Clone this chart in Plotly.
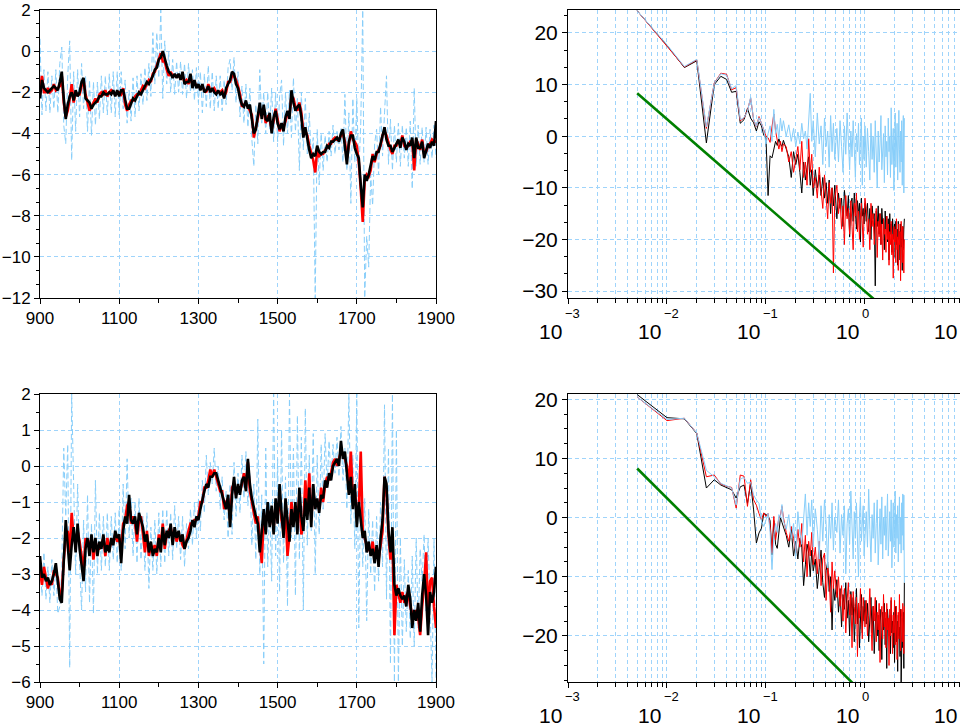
import plotly.graph_objects as go

# ---------------- time axis (years) ----------------
YEARS = list(range(900, 1901, 5))

# ---------------- top-left panel series ----------------
TL_BLACK = [
    -2.3, -1.4, -1.8, -1.9, -2.0, -1.9, -1.8, -1.7, -1.8, -1.9,
    -1.5, -1.0, -2.3, -3.3, -2.6, -2.2, -2.0, -2.4, -1.9, -2.2,
    -2.0, -1.5, -1.3, -2.3, -2.4, -2.5, -2.8, -2.6, -2.5, -2.4,
    -2.2, -2.2, -2.0, -2.1, -2.1, -2.0, -2.1, -1.9, -2.2, -1.9,
    -2.2, -1.9, -1.9, -2.4, -2.8, -2.8, -2.5, -2.3, -2.4, -2.2,
    -2.0, -2.1, -1.9, -1.7, -1.5, -1.6, -1.4, -1.2, -0.9, -0.8,
    -0.4, -0.3, 0.0, -0.4, -0.7, -1.0, -1.1, -1.3, -1.1, -1.3,
    -1.1, -1.4, -1.0, -1.6, -1.5, -1.5, -1.1, -1.8, -1.4, -1.8,
    -1.6, -1.9, -1.6, -2.0, -1.9, -1.7, -2.0, -1.8, -2.0, -2.1,
    -1.9, -2.1, -2.0, -2.3, -1.8, -1.6, -1.4, -1.0, -1.1, -1.6,
    -1.8, -2.3, -2.6, -2.7, -2.4, -2.8, -2.6, -3.3, -4.0, -3.8,
    -3.1, -2.5, -3.3, -2.6, -3.3, -3.4, -3.0, -4.0, -3.2, -2.9,
    -3.5, -3.8, -3.5, -3.9, -3.2, -2.9, -3.3, -1.9, -2.5, -2.9,
    -2.7, -2.6, -3.2, -4.2, -3.7, -4.3, -4.8, -5.2, -5.0, -5.1,
    -4.6, -4.9, -5.0, -4.9, -4.9, -4.6, -4.7, -4.4, -4.4, -4.3,
    -4.2, -4.4, -4.0, -3.8, -4.6, -5.5, -4.4, -4.1, -4.1, -4.7,
    -5.0, -5.2, -6.5, -7.6, -6.0, -6.3, -6.0, -5.6, -5.1, -5.3,
    -4.9, -4.9, -4.5, -4.2, -3.7, -4.3, -4.6, -4.6, -4.9, -4.7,
    -4.5, -4.3, -4.7, -4.2, -4.4, -4.8, -4.5, -4.6, -4.2, -5.2,
    -4.2, -4.7, -4.7, -4.4, -5.2, -4.8, -4.5, -4.7, -4.4, -4.6,
    -3.4,
]
TL_RED = [
    -1.9, -1.2, -2.0, -2.0, -1.8, -2.0, -1.9, -1.6, -1.9, -1.8,
    -1.7, -1.2, -2.5, -3.2, -2.9, -2.3, -1.6, -2.5, -2.0, -2.1,
    -2.1, -1.7, -1.4, -2.1, -2.5, -2.9, -2.7, -2.5, -2.3, -2.5,
    -2.1, -2.0, -2.1, -1.9, -2.2, -2.0, -1.9, -2.0, -2.1, -2.0,
    -2.0, -2.1, -1.8, -2.6, -2.9, -2.6, -2.4, -2.4, -2.2, -2.1,
    -2.1, -1.9, -1.7, -1.8, -1.6, -1.4, -1.5, -1.1, -1.0, -0.7,
    -0.5, -0.1, -0.5, -0.5, -0.9, -1.2, -1.0, -1.2, -1.2, -1.2,
    -1.2, -1.3, -1.2, -1.5, -1.4, -1.6, -1.3, -1.6, -1.5, -1.7,
    -1.7, -1.8, -1.7, -1.9, -2.0, -1.6, -1.9, -1.9, -1.8, -2.0,
    -2.0, -2.0, -1.9, -2.2, -2.0, -1.5, -1.5, -1.2, -1.2, -1.4,
    -1.7, -2.1, -2.7, -2.6, -2.6, -2.7, -2.9, -3.1, -4.2, -3.7,
    -3.3, -2.8, -3.1, -2.8, -3.5, -3.2, -3.3, -3.8, -3.4, -2.8,
    -3.3, -3.9, -3.6, -3.7, -3.4, -3.0, -3.1, -2.2, -2.3, -2.7,
    -2.9, -2.5, -3.0, -3.9, -3.9, -4.1, -4.6, -5.0, -5.3, -5.9,
    -4.8, -5.1, -5.0, -5.0, -4.8, -4.7, -4.5, -4.5, -4.3, -4.2,
    -4.3, -4.3, -4.1, -4.0, -4.4, -5.2, -4.6, -3.9, -4.3, -4.4,
    -4.6, -5.4, -6.7, -8.3, -6.3, -6.0, -6.1, -5.8, -5.0, -5.4,
    -5.0, -4.8, -4.6, -4.1, -3.9, -4.1, -4.5, -4.8, -5.0, -4.6,
    -4.6, -4.4, -4.5, -4.1, -4.6, -4.7, -4.6, -4.4, -4.4, -5.8,
    -4.3, -4.5, -4.8, -4.3, -5.0, -4.9, -4.6, -4.5, -4.3, -4.4,
    -4.4,
]
TL_BLUE = [
    0.6, -3.1, -0.9, -2.9, -1.0, -3.0, -1.2, -2.8, -0.9, -3.0,
    -0.6, 0.2, -3.6, -4.5, -1.2, 0.5, -5.3, -1.0, -3.9, -0.9,
    -3.2, -0.6, -2.8, -1.2, -3.9, -1.4, -4.1, -1.5, -3.6, -1.5,
    -3.3, -1.2, -3.0, -1.2, -3.1, -1.1, -3.0, -1.0, -3.2, -1.0,
    -3.1, -1.0, -2.8, -1.4, -3.5, -1.9, -3.4, -1.3, -3.2, -1.2,
    -2.9, -1.1, -2.6, -0.8, -2.4, -0.6, -2.2, 0.9, -1.6, 0.9,
    -1.3, 2.0, -2.3, 0.5, -1.6, 0.0, -2.0, -0.4, -2.1, -0.5,
    -2.0, -0.5, -2.1, -0.6, -2.3, -0.6, -2.0, -0.9, -2.4, -0.8,
    -2.5, -1.0, -3.0, -1.1, -2.7, -0.7, -2.8, -1.0, -2.9, -1.2,
    -2.8, -1.2, -2.9, -1.4, -2.6, -0.8, -0.4, -1.9, -0.3, -2.5,
    -1.0, -3.2, -1.7, -3.5, -1.6, -3.7, -1.8, -4.3, -5.6, -2.6,
    -4.5, -0.9, -3.5, -2.0, -4.0, -2.0, -3.8, -1.8, -4.4, -2.0,
    -4.4, -2.2, -1.4, -4.6, -2.0, -4.0, -1.9, -4.2, -1.3, -3.9,
    -2.3, -5.8, -2.0, -4.8, -2.3, -5.0, -3.0, -5.2, -4.2, -12.0,
    -3.8, -6.5, -4.0, -5.8, -4.1, -5.4, -3.9, -5.1, -3.6, -5.0,
    -3.9, -4.8, -3.7, -5.4, -2.1, -5.8, -3.0, -7.4, -2.3, -5.4,
    -2.3, -6.0, -3.5, 2.0, -12.0, -9.0, -10.5, -6.0, -7.5, -4.5,
    -3.8, -6.0, -2.7, -5.1, -3.0, -1.2, -5.5, -3.3, -5.8, -3.6,
    -5.4, -3.5, -5.6, -3.6, -5.2, -3.7, -5.6, -3.4, -6.7, -1.8,
    -5.6, -3.6, -5.5, -3.7, -5.4, -3.7, -5.5, -3.8, -5.2, -3.6,
    -5.2,
]

# ---------------- bottom-left panel series ----------------
BL_BLACK = [
    -2.5, -3.1, -3.0, -3.2, -3.1, -3.3, -3.2, -3.0, -2.7, -3.3,
    -3.7, -3.8, -2.4, -1.5, -2.2, -2.9, -2.2, -1.7, -2.4, -1.6,
    -2.3, -2.7, -3.2, -2.3, -2.0, -2.5, -1.9, -2.4, -2.0, -2.5,
    -2.1, -2.3, -1.9, -2.4, -2.2, -2.4, -2.0, -2.2, -1.8, -2.0,
    -1.9, -2.7, -1.8, -1.4, -1.6, -0.8, -1.5, -1.6, -1.4, -1.9,
    -1.3, -1.5, -1.7, -2.1, -1.9, -2.4, -2.1, -2.5, -2.3, -2.4,
    -2.0, -2.4, -1.7, -2.2, -1.8, -2.0, -1.6, -2.2, -1.7, -2.0,
    -1.8, -2.1, -1.9, -2.3, -2.1, -2.0, -1.8, -1.5, -1.7, -1.4,
    -1.5, -1.2, -0.9, -0.7, -0.5, -0.6, -0.3, -0.3, -0.2, -0.2,
    -0.4, -0.6, -0.8, -1.0, -1.2, -0.8, -1.7, -0.8, -0.3, -0.9,
    -0.5, -0.8, -0.4, -0.3, -0.7, 0.2, -0.5, -0.9, -1.2, -1.4,
    -1.6, -2.4, -1.8, -1.2, -1.9, -1.0, -1.7, -1.1, -1.9, -0.9,
    -1.6, -0.5, -1.3, -2.0, -0.9, -1.6, -2.1, -1.2, -1.7, -1.0,
    -1.9, -0.6, -1.4, -1.8, -0.9, -1.5, -0.6, -1.7, -0.5, -1.2,
    -0.9, -1.3, -0.8, -0.9, -0.4, -0.6, -0.2, -0.4, 0.0, 0.1,
    0.2, 0.0, 0.7, 0.2, 0.4, -0.2, -0.8, -0.3, -1.2, -0.5,
    -1.7, -1.0, -1.6, -2.0, -1.8, -2.4, -2.1, -2.5, -2.3, -2.7,
    -2.2, -2.8, -2.0, -1.5, -0.3, -0.5, -1.8, -2.4, -1.7, -3.3,
    -3.6, -3.4, -3.6, -3.7, -3.6, -3.9, -3.3, -3.7, -4.5, -4.0,
    -4.3, -3.8, -4.6, -3.6, -3.0, -3.6, -4.7, -3.5, -3.8, -3.5,
    -2.8,
]
BL_RED = [
    -2.9, -3.3, -2.8, -3.1, -3.4, -3.2, -3.3, -2.9, -3.0, -3.1,
    -3.6, -3.5, -2.6, -2.0, -1.8, -2.4, -1.3, -2.0, -2.1, -1.8,
    -2.1, -2.5, -2.9, -2.0, -2.2, -2.2, -2.0, -2.6, -2.1, -2.3,
    -2.3, -2.2, -2.0, -2.5, -2.0, -2.3, -2.1, -2.1, -1.9, -2.1,
    -2.0, -2.3, -1.6, -1.5, -1.1, -1.0, -1.6, -1.4, -1.6, -2.1,
    -1.5, -1.4, -1.9, -2.4, -1.8, -2.5, -2.2, -2.3, -2.2, -2.5,
    -1.9, -2.2, -1.6, -2.3, -1.9, -1.8, -1.7, -2.0, -1.8, -2.1,
    -1.9, -2.0, -2.2, -2.3, -2.0, -1.8, -1.6, -1.6, -1.5, -1.5,
    -1.4, -1.0, -1.0, -0.6, -0.6, -0.4, -0.1, -0.3, -0.1, -0.3,
    -0.5, -0.7, -0.7, -1.2, -1.0, -0.9, -1.5, -0.6, -0.5, -0.8,
    -0.6, -0.7, -0.5, -0.2, -0.6, 0.1, -0.7, -1.0, -1.3, -1.6,
    -1.4, -2.2, -2.7, -1.4, -1.6, -1.2, -1.5, -1.4, -1.7, -1.1,
    -1.4, -0.8, -1.5, -1.8, -1.2, -2.5, -1.9, -1.0, -1.5, -1.3,
    -1.6, -0.8, -1.9, -1.6, -0.4, -1.3, -0.2, -1.4, -0.8, -1.0,
    -1.0, -1.2, -0.6, -1.0, -0.5, -0.3, -0.4, -0.2, 0.1, 0.2,
    0.0, 0.2, 0.4, 0.3, 0.2, 0.0, -0.6, 0.4, -0.9, -0.7,
    -1.4, -1.2, 0.4, -1.8, -2.0, -2.2, -2.3, -2.4, -2.1, -2.5,
    -2.4, -2.6, -2.2, -1.8, -0.3, -0.7, -1.9, -2.6, -2.0, -4.7,
    -3.3, -3.6, -3.8, -3.5, -3.8, -3.6, -3.5, -3.9, -4.1, -4.2,
    -4.0, -4.2, -4.7, -3.9, -3.3, -2.4, -4.2, -3.2, -3.1, -3.9,
    -4.5,
]
BL_BLUE = [
    -2.6, -3.6, -2.4, -3.7, -2.8, -3.8, -2.6, -3.6, -2.8, -4.1,
    -3.9, -2.9, 0.5, -1.4, 0.6, -5.6, 2.0, -1.0, -3.0, -0.5,
    -2.7, -4.0, -1.5, -3.5, -0.8, -3.8, -1.6, -4.1, -0.4, -3.0,
    -1.3, -2.9, -1.4, -2.8, -1.3, -2.9, -1.4, -2.6, -1.3, -2.7,
    -1.2, -2.9, -0.5, -2.3, 0.2, -2.0, -0.9, -2.5, -1.0, -2.7,
    -0.9, -2.6, -1.4, -2.9, -1.3, -3.4, -1.7, -2.9, -1.5, -3.0,
    -1.3, -2.8, -1.2, -2.7, -1.2, -2.5, -1.3, -2.6, -1.1, -2.3,
    -1.4, -2.6, -1.4, -2.8, -1.6, -2.3, -1.2, -2.2, -1.0, -2.0,
    -0.9, -1.8, -0.4, -1.3, 0.3, -0.8, 0.1, -0.5, 0.5, -0.7,
    0.0, -1.2, -0.3, -1.5, -0.7, -2.0, -0.5, -1.9, 0.1, -1.4,
    -0.2, -1.3, 0.3, -0.9, 0.4, -1.1, -0.2, -2.2, -0.5, -2.6,
    1.3, -3.0, -0.8, -5.5, 0.5, -2.8, -1.0, -3.2, 2.0, -2.5,
    0.2, -3.5, 1.0, -2.7, -0.3, -3.9, 2.0, -2.0, 0.5, -3.6,
    1.4, -2.6, 0.8, -4.0, 1.6, -2.2, 0.3, -1.8, 0.9, -3.0,
    0.3, -1.9, 0.6, -1.2, 0.9, -0.6, 0.7, -0.4, 0.6, -0.2,
    0.8, -0.3, 1.1, -0.4, 0.5, -1.2, 2.0, -1.6, 0.3, -2.3,
    2.0, -4.5, -0.3, -2.8, -0.9, -4.3, -1.2, -3.0, -1.5, -3.5,
    -1.4, -3.2, -1.0, -2.8, 1.7, -3.7, 0.5, -5.5, 2.0, -6.0,
    1.0, -6.0, -2.0, -5.0, -2.6, -4.6, -2.9, -4.8, -2.5, -5.0,
    -2.0, -4.5, -2.3, -3.2, -1.9, -4.0, -2.0, -3.9, -6.0, -2.0,
    -6.0,
]

# ---------------- spectra: frequency grid ----------------
FREQ = [
    0.005, 0.01, 0.015, 0.02, 0.025, 0.03, 0.035, 0.04, 0.045, 0.05,
    0.055, 0.06, 0.065, 0.07, 0.075, 0.08, 0.085, 0.09, 0.095, 0.1,
    0.105, 0.11, 0.115, 0.12, 0.125, 0.13, 0.135, 0.14, 0.145, 0.15,
    0.16, 0.17, 0.18, 0.19, 0.2, 0.21, 0.22, 0.23, 0.24, 0.25,
    0.26, 0.27, 0.28, 0.29, 0.3,
    0.315, 0.33, 0.345, 0.36, 0.375, 0.39, 0.405, 0.42, 0.435, 0.45,
    0.465, 0.48, 0.495,
    0.52, 0.54, 0.56, 0.58, 0.6, 0.62, 0.64, 0.66, 0.68, 0.7,
    0.72, 0.74, 0.76, 0.78, 0.8, 0.82, 0.84, 0.86, 0.88, 0.9,
    0.92, 0.94, 0.96, 0.98, 1.0,
    1.03, 1.06, 1.09, 1.12, 1.15, 1.18, 1.21, 1.24, 1.27, 1.3,
    1.33, 1.36, 1.39, 1.42, 1.45, 1.48, 1.51, 1.54, 1.57, 1.6,
    1.63, 1.66, 1.69, 1.72, 1.75, 1.78, 1.81, 1.84, 1.87, 1.9,
    1.93, 1.96, 1.99, 2.02, 2.05, 2.08, 2.11, 2.14, 2.17, 2.2,
    2.23, 2.26, 2.29, 2.32, 2.35, 2.38, 2.41, 2.44, 2.47, 2.5,
]

# top-right spectra (dB)
TR_BLACK = [
    24.3, 17.6, 13.3, 14.6, -1.3, 10.0, 11.6, 11.0, 8.5, 8.7,
    2.5, 3.2, 5.4, 3.5, 2.6, 1.0, 2.8, 2.0, 0.2, -0.3,
    -11.5, -3.8, -4.2, -2.6, -1.0, -1.8, -0.5, -1.5, -2.0, -0.8,
    -2.5, -4.0, -8.0, -3.0, -5.5, -3.5, -7.0, -11.0, -5.0, -8.5,
    -6.0, -4.0, -9.5, -6.5, -11.5,
    -6.5, -10.0, -7.5, -11.5, -8.0, -12.0, -9.0, -13.0, -8.5, -15.0,
    -10.0, -13.5, -9.5,
    -16.0, -11.0, -14.0, -12.0, -17.5, -10.5, -13.0, -15.5, -11.5, -19.5,
    -13.0, -12.0, -16.5, -11.0, -14.5, -18.0, -12.5, -15.0, -13.0, -20.5,
    -12.0, -15.5, -14.0, -17.0, -13.0,
    -16.5, -13.0, -18.5, -14.0, -20.0, -13.5, -16.0, -15.0, -29.0, -14.5,
    -17.5, -13.5, -19.0, -15.0, -21.0, -14.0, -17.0, -16.0, -22.0, -14.5,
    -18.0, -15.5, -20.5, -16.0, -24.0, -15.0, -19.0, -17.0, -22.5, -16.0,
    -18.5, -20.0, -17.0, -23.5, -16.5, -21.0, -18.0, -25.0, -16.5, -20.0,
    -18.5, -24.0, -17.0, -21.5, -19.0, -26.0, -17.5, -22.0, -18.0, -16.0,
]
TR_RED = [
    24.3, 17.5, 13.4, 14.8, 1.5, 10.3, 12.2, 12.0, 9.0, 9.4,
    3.0, 3.5, 5.0, 7.4, 3.2, 1.8, 3.8, 2.5, 1.0, 0.0,
    -0.3, -1.2, 1.8, 4.3, 1.0, -0.5, -2.5, -1.0, -3.0, -1.5,
    -2.0, -5.0, -3.0, -7.0, -4.0, -2.0, -6.5, -1.0, -8.0, -5.0,
    -9.5, -0.5, -7.0, -3.5, -10.0,
    -8.0, -12.0, -6.0, -10.5, -14.0, -7.5, -11.0, -16.0, -9.0, -13.0,
    -10.0, -26.5, -12.0,
    -9.5, -15.0, -12.0, -18.0, -13.5, -21.0, -11.5, -16.0, -14.0, -19.0,
    -12.5, -17.5, -22.0, -13.0, -15.5, -11.0, -18.5, -14.5, -20.0, -16.0,
    -13.0, -17.0, -21.5, -15.0, -12.0,
    -14.0, -19.0, -16.0, -22.0, -13.0, -17.5, -15.0, -21.0, -18.0, -14.0,
    -23.5, -16.5, -19.5, -15.0, -21.0, -17.0, -24.0, -16.0, -19.0, -18.0,
    -22.5, -15.5, -20.0, -17.0, -25.0, -18.5, -21.0, -16.5, -23.0, -19.0,
    -27.5, -17.5, -20.5, -18.0, -24.5, -16.0, -22.0, -19.5, -26.0, -17.0,
    -21.0, -18.5, -28.0, -16.5, -20.0, -24.5, -17.5, -21.5, -26.5, -20.0,
]
TR_BLUE = [
    24.3, 17.7, 13.5, 14.9, 1.8, 10.2, 12.1, 11.8, 9.2, 9.8,
    3.2, 3.6, 4.8, 7.6, 3.3, 1.9, 3.6, 2.6, 1.1, -1.5,
    0.5, 2.0, -1.0, 5.2, 0.5, 2.3, -0.5, 3.5, 1.0, 3.0,
    0.0, 2.2, -1.0, 1.5, -2.0, 0.8, -1.5, 2.5, -0.5, 1.0,
    -2.5, 3.0, 8.3, -1.0, 3.0,
    -4.0, 4.5, -1.5, 2.0, -5.5, 3.5, -2.0, 1.0, -6.0, 4.0,
    -3.0, 2.5, -4.5,
    1.5, -5.0, 3.0, -2.0, -7.0, 2.0, -3.5, 4.5, -1.0, -6.5,
    1.0, -4.0, 3.0, -2.5, -8.0, 0.5, -3.0, 2.5, -5.5, -1.0,
    3.5, -9.5, 0.0, -4.5, 2.0,
    -6.0, 1.5, -3.0, -8.5, 2.5, -4.5, 0.0, -7.0, 3.0, -2.0,
    -10.0, 1.0, -5.0, -1.5, 4.0, -6.5, -2.5, 0.5, -9.0, 2.0,
    -4.0, -1.0, -7.5, 3.5, -3.0, 0.0, -8.0, 5.5, -5.5, -2.0,
    1.5, -10.5, -3.5, 4.5, -6.0, -1.5, 2.5, -8.5, -4.0, 5.0,
    -2.5, -7.0, 1.0, -5.0, 3.0, -9.5, -1.0, 4.0, -11.0, 3.5,
]

# bottom-right spectra (dB)
BR_BLACK = [
    20.8, 16.9, 16.7, 14.2, 5.0, 6.4, 5.5, 5.1, 4.7, 3.3,
    5.2, 5.5, 2.4, 5.8, 1.3, -4.3, -2.6, -1.8, 0.7, 0.5,
    0.3, -0.5, -6.3, -0.5, -4.5, -5.2, -2.5, 0.0, -0.8, -1.5,
    -3.0, -5.0, -2.0, -6.5, -4.0, -7.0, -3.5, -5.0, -11.5, -8.0,
    -4.5, -6.0, -10.0, -5.5, -9.0,
    -7.0, -12.0, -8.5, -5.5, -11.0, -13.5, -9.0, -7.5, -12.5, -10.0,
    -19.0, -11.5, -14.0,
    -10.5, -16.0, -12.0, -18.5, -13.0, -15.5, -11.0, -17.0, -14.0, -20.0,
    -12.5, -16.5, -13.5, -21.0, -15.0, -12.0, -18.0, -14.5, -22.0, -16.0,
    -13.0, -19.5, -15.0, -17.5, -14.0,
    -18.0, -14.5, -21.0, -16.0, -13.5, -19.5, -15.0, -23.0, -17.0, -14.0,
    -20.0, -16.5, -22.5, -15.5, -18.0, -24.0, -16.0, -19.0, -14.5, -21.5,
    -17.0, -25.5, -15.5, -18.5, -20.0, -16.5, -23.0, -14.0, -19.5, -17.5,
    -22.0, -16.0, -24.5, -18.0, -15.0, -21.0, -17.5, -26.0, -16.5, -20.0,
    -18.5, -23.5, -15.5, -28.0, -19.0, -17.0, -22.0, -16.0, -25.5, -11.0,
]
BR_RED = [
    20.4, 16.4, 16.8, 14.3, 6.9, 7.2, 5.7, 5.3, 5.1, 1.6,
    7.2, 7.0, 1.9, 6.4, 3.0, 2.1, 0.7, -0.4, 0.8, 0.2,
    0.7, -1.5, -6.0, 0.2, -3.8, -1.8, 0.0, 0.4, 1.9, 0.0,
    -2.5, -4.0, -1.5, -3.5, -6.0, -2.0, -5.0, -1.0, -7.5, -3.0,
    -10.0, -4.0, -6.5, -2.5, -8.0,
    -5.0, -9.5, -4.0, -11.5, -7.0, -6.0, -14.0, -8.5, -10.0, -16.0,
    -7.5, -12.0, -9.0,
    -13.5, -10.0, -15.0, -11.5, -17.5, -12.0, -19.5, -14.0, -11.0, -16.5,
    -13.0, -22.0, -12.5, -15.0, -18.0, -13.5, -23.5, -14.5, -17.0, -12.0,
    -16.0, -20.5, -13.5, -15.5, -18.5,
    -14.0, -20.0, -16.5, -12.0, -18.0, -22.5, -15.0, -17.5, -13.5, -21.0,
    -16.0, -19.0, -14.5, -24.5, -17.0, -15.0, -20.5, -13.0, -18.5, -16.0,
    -22.0, -14.5, -19.0, -17.0, -25.0, -15.5, -20.0, -13.5, -18.0, -23.0,
    -16.5, -19.5, -14.0, -21.5, -17.5, -15.0, -24.0, -18.0, -16.0, -20.5,
    -13.0, -19.0, -22.5, -15.5, -17.0, -21.0, -14.5, -18.5, -23.0, -15.0,
]
BR_BLUE = [
    20.4, 16.6, 16.8, 14.3, 8.0, 6.9, 5.8, 5.3, 5.0, 2.1,
    6.5, 6.8, 5.8, 6.0, 3.8, 3.0, 2.4, -0.5, -1.5, -0.4,
    0.7, -2.4, -8.8, -3.0, -1.0, -2.5, 0.5, 0.0, 2.2, -0.5,
    -2.0, 0.5, -3.5, -1.0, -6.5, 1.0, -2.5, -4.5, 0.0, 4.0,
    -3.0, 2.5, -1.5, 3.0, -5.0,
    1.5, -2.0, -7.0, 2.0, -4.0, 3.0, -1.0, -8.5, 0.5, -3.5,
    2.5, -5.5, 0.0,
    -2.5, 3.0, -6.0, 0.5, -3.0, 2.0, -9.5, -1.0, 1.5, -4.5,
    4.5, -2.0, -7.0, 1.0, -3.5, 2.5, -5.0, -10.0, 0.0, 3.5,
    -4.0, -1.5, 2.0, -6.5, -2.5,
    1.0, -5.0, 4.8, -2.0, -7.5, 0.5, -3.5, 2.5, -6.0, -1.0,
    3.0, -8.0, -2.5, 1.5, -4.5, 3.5, -7.0, 0.0, -3.0, 2.0,
    -5.5, -1.5, 4.0, -6.5, -2.0, 1.0, -4.0, 3.0, -8.5, -0.5,
    2.5, -5.0, -2.0, 4.5, -6.0, 0.5, -3.5, 2.0, -7.5, -1.0,
    3.5, -4.5, 0.0, -6.0, 2.5, -3.0, 4.0, -5.5, 3.8, -11.0,
]

# -5/3 reference line (end points)
REF_FREQ = [0.005, 2.5]
REF_DB = [8.3, -36.7]

# tick labels for the log axes
LOG_EXPONENTS = ["\u22123", "\u22122", "\u22121", "0"]
LOG_POSITIONS = [-3, -2, -1, 0]

for name, arr, n in [("TL_BLACK", TL_BLACK, 201), ("TL_RED", TL_RED, 201), ("TL_BLUE", TL_BLUE, 201),
                     ("BL_BLACK", BL_BLACK, 201), ("BL_RED", BL_RED, 201), ("BL_BLUE", BL_BLUE, 201),
                     ("TR_BLACK", TR_BLACK, len(FREQ)), ("TR_RED", TR_RED, len(FREQ)), ("TR_BLUE", TR_BLUE, len(FREQ)),
                     ("BR_BLACK", BR_BLACK, len(FREQ)), ("BR_RED", BR_RED, len(FREQ)), ("BR_BLUE", BR_BLUE, len(FREQ))]:
    assert len(arr) == n, (name, len(arr), n)

# ---------------- styling ----------------
FONT = "Liberation Sans, Arial, Helvetica, sans-serif"
LIGHT = "#87CEFA"
GRID = "#9fd4fb"
GRID_DASH = "4px,3px"

fig = go.Figure()

def ts(x, y, color, width, xa, ya, dash=None):
    line = dict(color=color, width=width)
    if dash:
        line["dash"] = dash
    fig.add_trace(go.Scatter(x=x, y=y, mode="lines", line=line, xaxis=xa, yaxis=ya,
                             hoverinfo="skip", showlegend=False))

# top-left
ts(YEARS, TL_BLUE, LIGHT, 1, "x", "y", "6px,3px")
ts(YEARS, TL_RED, "#FF0000", 2.6, "x", "y")
ts(YEARS, TL_BLACK, "#000000", 2.6, "x", "y")
# bottom-left
ts(YEARS, BL_BLUE, LIGHT, 1, "x3", "y3", "6px,3px")
ts(YEARS, BL_RED, "#FF0000", 2.6, "x3", "y3")
ts(YEARS, BL_BLACK, "#000000", 2.6, "x3", "y3")
# top-right
ts(FREQ, TR_BLACK, "#000000", 1, "x2", "y2")
ts(FREQ, TR_RED, "#FF0000", 1, "x2", "y2")
ts(FREQ, TR_BLUE, LIGHT, 1, "x2", "y2")
ts(REF_FREQ, REF_DB, "#008000", 2.6, "x2", "y2")
# bottom-right
ts(FREQ, BR_BLACK, "#000000", 1, "x4", "y4")
ts(FREQ, BR_RED, "#FF0000", 1, "x4", "y4")
ts(FREQ, BR_BLUE, LIGHT, 1, "x4", "y4")
ts(REF_FREQ, REF_DB, "#008000", 2.6, "x4", "y4")

W, H = 960, 727
LX = [40 / W, 436 / W]
RX = [568 / W, 1.0]
TY = [1 - 298 / H, 1 - 10 / H]
BY = [1 - 682 / H, 1 - 394 / H]

def base_axis(**kw):
    d = dict(showline=True, linecolor="black", linewidth=1,
             ticks="outside", ticklen=5, tickwidth=1, tickcolor="black",
             showgrid=True, gridcolor=GRID, griddash=GRID_DASH, gridwidth=1,
             zeroline=False, automargin=False,
             tickfont=dict(family=FONT, size=17, color="black"))
    d.update(kw)
    return d

year_x = dict(range=[900, 1900], tick0=900, dtick=200, mirror=True,
              minor=dict(ticks="outside", ticklen=4, dtick=100, tick0=900, tickcolor="black", showgrid=False))
log_x = dict(type="log", range=[-3, 0.96], dtick=1, mirror=True, showticklabels=False,
             minor=dict(ticks="outside", ticklen=4, dtick="D1", tickcolor="black",
                        showgrid=True, gridcolor=GRID, griddash=GRID_DASH, gridwidth=1))

fig.update_layout(
    width=W, height=H, autosize=False,
    margin=dict(l=0, r=0, t=0, b=0, pad=0, autoexpand=False),
    paper_bgcolor="white", plot_bgcolor="white", showlegend=False,
    font=dict(family=FONT, color="black"),
    xaxis=base_axis(domain=LX, anchor="y", **year_x),
    yaxis=base_axis(domain=TY, anchor="x", range=[-12, 2], dtick=2, tick0=0, mirror=True,
                    minor=dict(ticks="outside", ticklen=3, dtick=2 / 3, tick0=0, tickcolor="black", showgrid=False)),
    xaxis3=base_axis(domain=LX, anchor="y3", **year_x),
    yaxis3=base_axis(domain=BY, anchor="x3", range=[-6, 2], dtick=1, tick0=0, mirror=True,
                     minor=dict(ticks="outside", ticklen=3, dtick=0.5, tick0=0, tickcolor="black", showgrid=False)),
    xaxis2=base_axis(domain=RX, anchor="y2", **log_x),
    yaxis2=base_axis(domain=TY, anchor="x2", range=[-31.35, 24.45], dtick=10, tick0=0,
                     tickfont=dict(family=FONT, size=21, color="black"),
                     minor=dict(ticks="outside", ticklen=3, dtick=10 / 3, tick0=0, tickcolor="black", showgrid=False)),
    xaxis4=base_axis(domain=RX, anchor="y4", **log_x),
    yaxis4=base_axis(domain=BY, anchor="x4", range=[-27.8, 20.9], dtick=10, tick0=0,
                     tickfont=dict(family=FONT, size=21, color="black"),
                     minor=dict(ticks="outside", ticklen=3, dtick=2.5, tick0=0, tickcolor="black", showgrid=False)),
)

# log-axis tick labels: "10" with a raised exponent
ann = []
for xa, y10, yexp in [("x2", 1 - 331 / H, 1 - 313 / H), ("x4", 1 - 715 / H, 1 - 696 / H)]:
    for pos, ex in zip(LOG_POSITIONS, LOG_EXPONENTS):
        ann.append(dict(x=pos, xref=xa, y=y10, yref="paper", text="10", showarrow=False,
                        xanchor="right", yanchor="middle", xshift=-4,
                        font=dict(family=FONT, size=21, color="black")))
        ann.append(dict(x=pos, xref=xa, y=yexp, yref="paper", text=ex, showarrow=False,
                        xanchor="left", yanchor="middle", xshift=-5,
                        font=dict(family=FONT, size=13, color="black")))
    # the decade label at 10^1 falls at the right edge of the page and is cut off
    ann.append(dict(x=959 / W, xref="paper", y=y10, yref="paper", text="10", showarrow=False,
                    xanchor="right", yanchor="middle",
                    font=dict(family=FONT, size=21, color="black")))
fig.update_layout(annotations=ann)

# the page is photographed edge to edge: drop the browser's default body margin
fig.write_html("out.html",
               post_script="document.body.style.margin='0px';document.body.style.overflow='hidden';")
